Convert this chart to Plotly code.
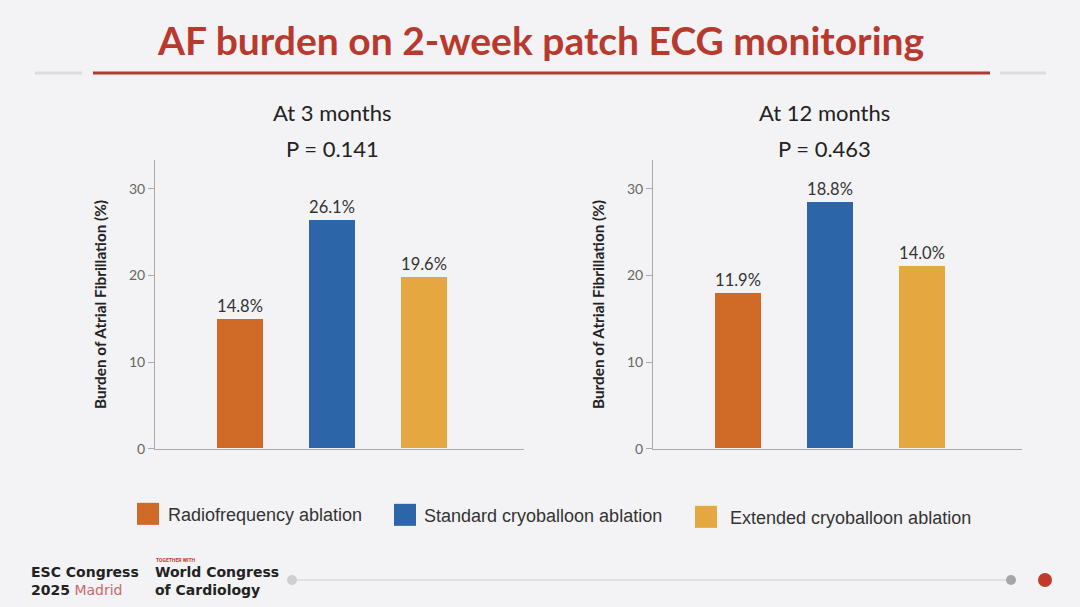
import plotly.graph_objects as go

# ---------------- data ----------------
categories = ["Radiofrequency ablation", "Standard cryoballoon ablation", "Extended cryoballoon ablation"]
bar_colors = ["#D06B27", "#2D66A8", "#E5A73F"]
heights_3m = [15.0, 26.4, 19.8]
labels_3m = ["14.8%", "26.1%", "19.6%"]
heights_12m = [18.0, 28.4, 21.1]
labels_12m = ["11.9%", "18.8%", "14.0%"]
panel_titles = ["At 3 months", "At 12 months"]
p_values = ["P = 0.141", "P = 0.463"]
y_ticks = [0, 10, 20, 30]
y_title = "Burden of Atrial Fibrillation (%)"
chart_title = "AF burden on 2-week patch ECG monitoring"

W, H = 1080, 607          # reference picture size (layout coordinates)
FIG_H = 616               # rendered height (viewport is slightly taller than the picture)
BG = "#F3F3F5"


def fx(px):
    return px / W


def fy(py):
    return 1 - py / H


fig = go.Figure()

panels = [
    (heights_3m, labels_3m, "x", "y"),
    (heights_12m, labels_12m, "x2", "y2"),
]
for heights, labels, xa, ya in panels:
    fig.add_trace(go.Bar(
        x=categories, y=heights, text=labels, textposition="outside",
        textfont=dict(family="Lato", size=16.5, color="#333333"),
        marker=dict(color=bar_colors, line=dict(width=0)),
        width=0.5, xaxis=xa, yaxis=ya, cliponaxis=False, showlegend=False,
        hoverinfo="skip",
    ))

axis_x = dict(type="category", range=[-0.918, 3.09], showline=True, linecolor="#AAAAAA",
              linewidth=1, showticklabels=False, ticks="", showgrid=False, zeroline=False)
axis_y = dict(range=[0, 33.3], tickvals=y_ticks, ticks="outside", ticklen=6, tickcolor="#AAAAAA",
              showline=True, linecolor="#AAAAAA", linewidth=1, showgrid=False, zeroline=False,
              tickfont=dict(family="Lato", size=14, color="#666666"),
              title=dict(text="<b>" + y_title + "</b>", standoff=18,
                         font=dict(family="Lato", size=15.3, color="#222222")))

y_dom = [fy(448), fy(160)]
fig.update_layout(
    width=W, height=FIG_H,
    margin=dict(l=0, r=0, t=0, b=0),
    paper_bgcolor=BG, plot_bgcolor=BG,
    xaxis=dict(axis_x, domain=[fx(155), fx(524)], anchor="y"),
    yaxis=dict(axis_y, domain=y_dom, anchor="x"),
    xaxis2=dict(axis_x, domain=[fx(653), fx(1022)], anchor="y2"),
    yaxis2=dict(axis_y, domain=y_dom, anchor="x2"),
    bargap=0,
)

annotations = []
shapes = []

# title
annotations.append(dict(x=fx(540), y=fy(40), xref="paper", yref="paper", text="<b>" + chart_title + "</b>",
                        showarrow=False, xanchor="center", yanchor="middle",
                        font=dict(family="Lato", size=39, color="#B83A2E")))
shapes.append(dict(type="line", xref="paper", yref="paper", x0=fx(93), x1=fx(990), y0=fy(73), y1=fy(73),
                   line=dict(color="#B03A2E", width=3)))
for a, b in [(35, 82), (1000, 1046)]:
    shapes.append(dict(type="line", xref="paper", yref="paper", x0=fx(a), x1=fx(b), y0=fy(73), y1=fy(73),
                       line=dict(color="#DDDDDD", width=3)))

# panel titles
for cx, t, p in zip([332, 824], panel_titles, p_values):
    annotations.append(dict(x=fx(cx), y=fy(112), xref="paper", yref="paper", text=t, showarrow=False,
                            xanchor="center", yanchor="middle",
                            font=dict(family="Lato", size=22, color="#222222")))
    annotations.append(dict(x=fx(cx), y=fy(148), xref="paper", yref="paper", text=p, showarrow=False,
                            xanchor="center", yanchor="middle",
                            font=dict(family="Lato", size=22, color="#222222")))

# legend
legend_pos = [(137, 513, 166), (394, 514, 422), (695, 516, 728)]
for (sx, sy, tx), name, col in zip(legend_pos, categories, bar_colors):
    shapes.append(dict(type="rect", xref="paper", yref="paper", x0=fx(sx), x1=fx(sx + 22),
                       y0=fy(sy - 11), y1=fy(sy + 11), fillcolor=col, line=dict(width=0)))
    annotations.append(dict(x=fx(tx), y=fy(sy + 1), xref="paper", yref="paper", text=name, showarrow=False,
                            xanchor="left", yanchor="middle",
                            font=dict(family="Liberation Sans", size=18, color="#333333")))

# footer
foot = dict(family="DejaVu Sans", size=14, color="#222222")
foot_ann = [
    dict(x=fx(29), y=fy(580), text="<b>ESC Congress</b><br><b>2025</b> <span style='color:#C8686A'>Madrid</span>",
         font=foot, align="left"),
    dict(x=fx(154), y=fy(559), text="<b>TOGETHER WITH</b>",
         font=dict(family="Roboto", size=5, color="#C0392B")),
    dict(x=fx(153), y=fy(580), text="<b>World Congress</b><br><b>of Cardiology</b>", font=foot, align="left"),
]
for a in foot_ann:
    a.update(xref="paper", yref="paper", showarrow=False, xanchor="left", yanchor="middle")
annotations += foot_ann

shapes.append(dict(type="line", xref="paper", yref="paper", x0=fx(292), x1=fx(1011), y0=fy(579), y1=fy(579),
                   line=dict(color="#DADADA", width=1.5)))
for cx, r, col in [(292, 5, "#CFCFCF"), (1011, 5, "#A6A6A6"), (1045, 7, "#C0392B")]:
    shapes.append(dict(type="circle", xref="paper", yref="paper", x0=fx(cx - r), x1=fx(cx + r),
                       y0=fy(579 + r), y1=fy(579 - r), fillcolor=col, line=dict(width=0)))

fig.update_layout(annotations=annotations, shapes=shapes)
fig.write_html("out.html", config={"displayModeBar": False},
               post_script="document.body.style.margin='0px';document.body.style.overflow='hidden';")
